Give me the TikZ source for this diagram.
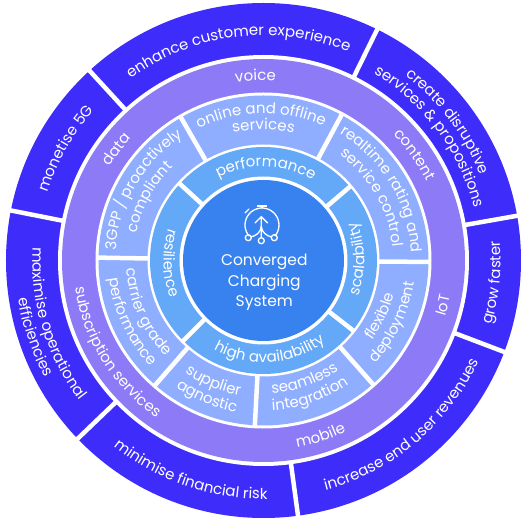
\documentclass[tikz,border=0pt]{standalone}
\usepackage{fontspec}
\setmainfont{Poppins}
\usetikzlibrary{decorations.text}
\definecolor{ringone}{RGB}{61,44,250}
\definecolor{ringtwo}{RGB}{141,122,247}
\definecolor{ringthree}{RGB}{143,174,255}
\definecolor{ringfour}{RGB}{100,168,248}
\definecolor{hubblue}{RGB}{56,130,240}
% text round the hub: radius, middle angle, text
\newcommand{\cwtext}[4][15]{\path[decorate, decoration={text along path, text align=center,
    text={|\fontsize{#1}{#1}\selectfont\color{white}|#4}}]
    ({#3+85}:#2) arc[start angle={#3+85}, end angle={#3-85}, radius=#2];}
\newcommand{\ccwtext}[4][15]{\path[decorate, decoration={text along path, text align=center,
    text={|\fontsize{#1}{#1}\selectfont\color{white}|#4}}]
    ({#3-85}:#2) arc[start angle={#3-85}, end angle={#3+85}, radius=#2];}

\begin{document}
\begin{tikzpicture}[x=1pt, y=1pt,
    gapline/.style={white, line width=4.5pt},
    icon/.style={white, line width=1.3pt, line cap=round, line join=round}]
  \useasboundingbox (-263.5,-266.5) rectangle (264.5,260.5);
  % the outer ring
  \fill[ringone] (0,0) circle[radius=257.5];
  \foreach \a in {132.5,63.8,10,-20.8,-82.3,223.8,168.8}
    \draw[gapline] (\a:200) -- (\a:262);
  \fill[white] (0,0) circle[radius=205.5];
  % the purple ring
  \fill[ringtwo] (0,0) circle[radius=201.5];
  \fill[white] (0,0) circle[radius=168];
  % the third ring
  \fill[ringthree] (0,0) circle[radius=165];
  \foreach \a in {120,61.8,-0.5,-48.5,267,229,179}
    \draw[gapline] (\a:110) -- (\a:167);
  \fill[white] (0,0) circle[radius=116];
  % the fourth ring
  \fill[ringfour] (0,0) circle[radius=113.5];
  \foreach \a in {137.5,40.5,-38,225}
    \draw[gapline] (\a:80) -- (\a:115);
  \fill[white] (0,0) circle[radius=84];
  % the hub
  \fill[hubblue] (0,0) circle[radius=80.5];
  \node[white, align=center, font=\fontsize{15.5}{20.5}\selectfont] (system) at (0.8,-22) {Converged\\Charging\\System};
  % the watch
  \draw[icon] (220:17) ++(-1.5,35.5) arc[start angle=220, end angle=-40, radius=17];
  \draw[icon] (-6,54.5) -- (3,54.5) (-1.5,54.5) -- (-1.5,52.5);
  \draw[icon] (-18.5,47.5) -- (-14.5,51.5);
  \draw[icon] (-2.2,43.8) -- (-2.2,22.8) (-8.5,37.5) -- (-2.2,43.8) -- (4.1,37.5);
  \draw[icon] (-2.2,34) .. controls (-3,28) and (-7,25) .. (-12.5,23.5);
  \draw[icon] (-2.2,34) .. controls (-1.4,28) and (2.6,25) .. (8,23.5);
  \draw[icon] (-15.2,22.8) circle[radius=3] (-2.2,19.8) circle[radius=3] (10.8,22.8) circle[radius=3];
  % the texts of the outer ring
  \cwtext{225}{97}{enhance customer experience}
  \cwtext{226}{150.5}{monetise 5G}
  \cwtext{233}{37}{create disruptive}
  \cwtext{217}{36.7}{services {\&} propositions}
  \ccwtext{237}{-5.5}{grow faster}
  \ccwtext{238}{-50}{increase end user revenues}
  \ccwtext{238.5}{251}{minimise financial risk}
  \ccwtext{231}{197}{maximise operational}
  \ccwtext{248}{198.5}{efficiencies}
  % the texts of the purple ring
  \cwtext{180}{92.5}{voice}
  \cwtext{180}{143}{data}
  \cwtext{181}{35}{content}
  \ccwtext{190}{-14}{IoT}
  \ccwtext{190}{-72}{mobile}
  \ccwtext{190}{212}{subscription services}
  % the texts of the third ring
  \cwtext{147}{91}{online and offline}
  \cwtext{131}{90}{services}
  \cwtext{148}{31}{realtime rating and}
  \cwtext{130}{30}{service control}
  \ccwtext{135}{-25.5}{flexible}
  \ccwtext{152}{-25.4}{deployment}
  \ccwtext{133}{-71}{seamless}
  \ccwtext{150}{-71}{integration}
  \ccwtext{137}{247.5}{supplier}
  \ccwtext{154}{247.5}{agnostic}
  \ccwtext{137}{204}{carrier grade}
  \ccwtext{155}{205}{performance}
  \cwtext{148}{149.6}{3GPP / proactively}
  \cwtext{130}{151}{compliant}
  % the texts of the fourth ring
  \cwtext{94}{88.6}{performance}
  \ccwtext{100}{181.5}{resilience}
  \ccwtext{101}{1}{scalability}
  \ccwtext{102}{274}{high availability}
\end{tikzpicture}
\end{document}
